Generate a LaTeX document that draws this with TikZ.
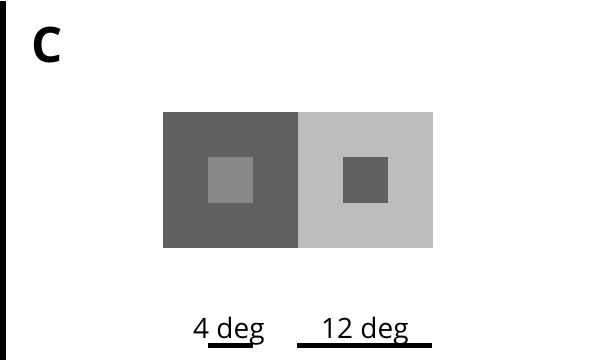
\documentclass[tikz,border=0pt]{standalone}
\usepackage{fontspec}
\setmainfont{Open Sans}
\usepackage{tikz}
\usetikzlibrary{positioning, calc}

\definecolor{surrdark}{RGB}{96,96,96}
\definecolor{surrlight}{RGB}{190,189,190}
\definecolor{testgray}{RGB}{136,136,136}

\begin{document}
\begin{tikzpicture}[
    x=1pt, y=-1pt,
    patch/.style={draw=none, inner sep=0pt, outer sep=0pt},
    bar/.style={line width=4.5pt},
    lbl/.style={inner sep=0pt, font=\fontsize{28}{30}\selectfont}
]
\useasboundingbox (0,0) rectangle (590,361);

% panel frame and letter
\fill[black] (0,1) rectangle (6,360);
\node[inner sep=0pt, anchor=base west, font=\fontsize{49}{52}\selectfont\bfseries] (panel) at (31,63) {C};

% 1. SURROUNDS
\fill[surrdark] (163,112) rectangle (298,248);
\fill[surrlight] (298,112) rectangle (433,248);
\coordinate (lsurr) at (230.5,180);
\coordinate (rsurr) at (365.5,180);

% 2. TEST PATCHES
\node[patch, fill=testgray, minimum size=45.5pt] (ltest) at (lsurr) {};
\node[patch, fill=surrdark, minimum size=45.5pt] (rtest) at (rsurr) {};

% 3. SCALE BARS
\coordinate (b4a) at (208,345.5);
\coordinate (b4b) at (253,345.5);
\coordinate (b12a) at (297,345.5);
\coordinate (b12b) at (432,345.5);
\draw[bar] (b4a) -- (b4b);
\draw[bar] (b12a) -- (b12b);
\node[lbl, anchor=base west] (l4) at (193,338) {4 deg};
\node[lbl, anchor=base west] (l12) at (321,338) {12 deg};
\end{tikzpicture}
\end{document}
